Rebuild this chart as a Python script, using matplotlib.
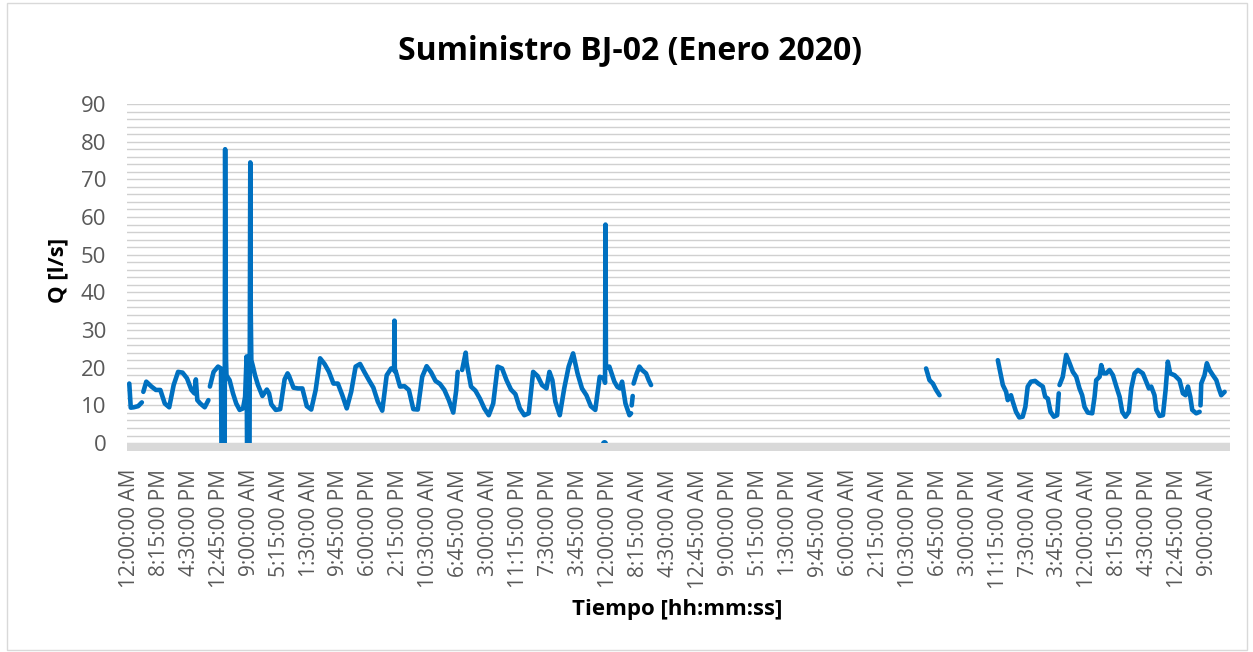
import numpy as np
import matplotlib
matplotlib.use("Agg")
import matplotlib.pyplot as plt
from matplotlib.patches import Rectangle

plt.rcParams['font.family'] = ['Open Sans', 'DejaVu Sans']

# horas desde 2020-01-01 00:00 y caudal [l/s]; None = sin dato
seg1_h = [0, 1, 3, 6, 8.5, 9, 9.5, 11.5, 15, 18, 21, 24, 27, 30, 33, 36, 39, 42, 44, 45, 46, 48, 51,
          53.5, 54, 54.5, 57, 60, 62, 62.3, 64.5, 64.8, 65.1, 65.4, 65.7, 67.8, 70.1, 72.3, 74.6, 76.9,
          78.3, 79.3, 79.6, 81.3, 81.8, 82.1, 82.5, 83.5, 85, 87, 90, 93, 94.5, 96, 99, 102, 105, 107,
          108, 111, 114, 117, 120, 123, 126, 129, 132, 135, 138, 141, 144, 147, 150, 153, 156, 159,
          162, 165, 168, 171, 174, 177, 179, 179.25, 179.5, 180, 183, 186, 189, 192, 195, 198, 201,
          204, 207, 210, 213, 216, 219, 221, 222, 223.5, 225, 227.4, 228, 231, 234, 237, 240, 243,
          246, 249, 252, 255, 258, 261, 264, 267, 270, 273, 276, 279, 282, 284, 286, 288, 291, 294,
          297, 300, 303, 306, 309, 312, 315, 318, 321, 321.6, 321.9, 322.2, 324.5, 327.9, 330, 331.8,
          333.1, 335.4, 338.1, 339.2, 339.4, 339.6, 340.3, 340.6, 340.9, 343, 344.8, 346.6, 349.3,
          351.1, 352.7]
seg1_q = [15.8, 9.4, 9.5, 9.8, 10.8, None, 13.6, 16.3, 15.0, 14.1, 14.1, 10.5, 9.5, 15.4, 18.9, 18.7,
          17.2, 14.1, 13.2, 16.9, 11.4, 10.5, 9.5,
          11.4, None, 15.0, 18.9, 20.3, 19.8, 0, 0, 78, 37, 22, 18, 16.7, 13.2, 10.5, 8.8, 9.2,
          12.3, 23, 0, 0, 74.5, 35, 22, 20.5, 18, 15.4, 12.5, 14.2, 13.2, 10.3, 8.8, 9.0, 16.9, 18.5,
          17.8, 14.7, 14.5, 14.5, 9.8, 8.9, 14.1, 22.5, 21.0, 18.9, 15.8, 15.8, 12.7, 9.2, 13.6, 20.3,
          21.0, 18.8, 16.7, 14.7, 11.0, 8.6, 18.0, 19.8, 19.5, 32.5, 19.0, 19.2, 15.0, 15.1, 14.1,
          9.0, 8.9, 17.6, 20.4, 18.8, 16.5, 15.7, 14.1, 11.4, 8.1, 14.0, 18.9, None, 19.4, 24.0, 21.3,
          15.0, 13.9, 11.8, 9.2, 7.4, 10.5, 20.3, 19.8, 16.7, 14.2, 13.0, 9.2, 7.4, 7.9, 18.9, 17.8,
          15.4, 14.5, 18.9, 16.7, 11.0, 7.4, 14.5, 20.3, 23.8, 18.5, 14.5, 12.7, 9.8, 8.8, 17.6, 17.2,
          16.0, 58.0, 20.0, 20.3, 16.3, 14.9, 14.5, 16.3, 10.5, 7.4, 7.9, None, 10.0, 12.5, None,
          15.8, 18.5, 20.3, 19.4, 18.5, 16.7, 15.4]

seg2_h = [538.6, 540.9, 543.2, 545.4, 547.7]
seg2_q = [19.8, 16.7, 15.8, 14.1, 12.7]

seg3_h = [587.1, 588.9, 590.5, 592.7, 593.8, 596, 597.2, 599.4, 601.6, 603.9, 605.7, 607.3, 609.5,
          612.3, 614.5, 617.5, 619.1, 620.9, 622.7, 625, 627.2, 628.3, 628.5, 628.8, 631, 633.3,
          635.6, 637.8, 640.1, 642.3, 644.1, 645.7, 647.9, 650.9, 652.5, 653.6, 655.9, 657, 658.6,
          660.4, 662.6, 664.9, 667.2, 669.4, 671.2, 673.4, 675.7, 677.3, 679.5, 681.8, 685.1, 687.4,
          689.2, 690.8, 693, 694.2, 696.4, 698.7, 700.5, 702, 703.6, 706.6, 709.9, 712.2, 714, 715.6,
          717.2, 718.5, 721.2, 723.5, 723.8, 724.1, 724.6, 726.8, 728.4, 730.2, 732.5, 734.8, 736.5,
          738.1, 740.4]
seg3_q = [22.0, 18.5, 15.4, 13.6, 11.4, 12.7, 11.0, 8.3, 6.8, 7.0, 9.6, 15.0, 16.3,
          16.5, 15.8, 15.0, 12.3, 11.8, 8.3, 7.0, 7.4, 13.2, None, 15.4, 17.6, 23.4,
          21.2, 18.9, 17.6, 14.5, 12.7, 9.6, 8.1, 7.9, 12.3, 16.7, 17.6, 20.7, 18.5,
          18.5, 19.4, 18.0, 15.0, 12.3, 8.3, 7.0, 8.3, 14.5, 18.5, 19.4, 18.5, 16.3,
          14.5, 15.0, 12.7, 8.8, 7.2, 7.4, 14.1, 21.6, 18.5, 18.0, 16.7, 13.2, 12.7, 15.0,
          12.3, 8.8, 7.9, 8.3, None, 10.0, 15.8, 18.0, 21.2, 19.4, 18.0, 16.7, 14.5,
          12.7, 13.6]

# dato aislado en cero
zero_h = [321.0]
zero_q = [0.0]

tick_labels = ["12:00:00 AM", "8:15:00 PM", "4:30:00 PM", "12:45:00 PM", "9:00:00 AM", "5:15:00 AM",
               "1:30:00 AM", "9:45:00 PM", "6:00:00 PM", "2:15:00 PM", "10:30:00 AM", "6:45:00 AM",
               "3:00:00 AM", "11:15:00 PM", "7:30:00 PM", "3:45:00 PM", "12:00:00 PM", "8:15:00 AM",
               "4:30:00 AM", "12:45:00 AM", "9:00:00 PM", "5:15:00 PM", "1:30:00 PM", "9:45:00 AM",
               "6:00:00 AM", "2:15:00 AM", "10:30:00 PM", "6:45:00 PM", "3:00:00 PM", "11:15:00 AM",
               "7:30:00 AM", "3:45:00 AM", "12:00:00 AM", "8:15:00 PM", "4:30:00 PM", "12:45:00 PM",
               "9:00:00 AM"]
tick_step_h = 20.25  # una etiqueta cada 81 registros de 15 min

blue = '#0070C0'
grey_txt = '#595959'

fig = plt.figure(figsize=(12.53, 6.52), dpi=100)
ax = fig.add_axes([0.1014, 0.3083, 0.8802, 0.5322])

for h, q in [(seg1_h, seg1_q), (seg2_h, seg2_q), (seg3_h, seg3_q)]:
    ax.plot(np.array(h, dtype=float), np.array(q, dtype=float), color=blue, lw=3.3,
            solid_joinstyle='round', solid_capstyle='round', zorder=2)
ax.plot(zero_h, zero_q, 'o', color=blue, ms=4, zorder=2)

# eje horizontal grueso
ax.axhspan(-2.1, 0, color='#d9d9d9', lw=0, zorder=3)

ax.set_xlim(-1.5, 744)
ax.set_ylim(-2.1, 90)
ax.set_yticks(range(0, 91, 10))
ax.set_yticks(range(0, 91, 2), minor=True)
ax.yaxis.grid(True, which='both', color='#d0d0d0', lw=1)
ax.set_axisbelow(True)

ax.set_xticks(np.arange(len(tick_labels)) * tick_step_h)
ax.set_xticklabels(tick_labels, rotation=90, va='top', ha='center')
ax.tick_params(axis='x', length=0, pad=13, labelsize=15, labelcolor=grey_txt)
ax.tick_params(axis='y', which='both', length=0, pad=15, labelsize=16, labelcolor=grey_txt)
for s in ax.spines.values():
    s.set_visible(False)

fig.text(0.503, 0.923, 'Suministro BJ-02 (Enero 2020)', ha='center', va='center',
         fontsize=23, fontweight='bold')
fig.text(0.046, 0.585, 'Q [l/s]', rotation=90, ha='center', va='center',
         fontsize=16, fontweight='bold')
fig.text(0.5405, 0.065, 'Tiempo [hh:mm:ss]', ha='center', va='center',
         fontsize=16, fontweight='bold')

# borde del área del gráfico
fig.patches.append(Rectangle((7 / 1253, 2 / 652), 1240 / 1253, 647 / 652, transform=fig.transFigure,
                             fill=False, edgecolor='#d9d9d9', lw=1))

fig.savefig('out.png', dpi=100)
